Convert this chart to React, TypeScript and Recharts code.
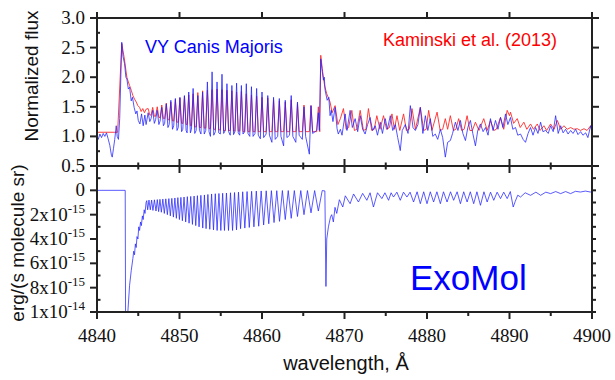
import React from "react";
import { LineChart, Line, XAxis, YAxis } from "recharts";

// ExoMol line grid: line centres and the gaps between them, Å
const bandLines = [
  4846.14, 4846.46, 4846.78, 4847.15, 4847.47, 4847.8, 4848.16, 4848.53, 4848.89, 4849.26,
  4849.62, 4849.99, 4850.35, 4850.75, 4851.16, 4851.57, 4851.97, 4852.37, 4852.82, 4853.22,
  4853.67, 4854.12, 4854.56, 4855.01, 4855.45, 4855.94, 4856.43, 4856.91, 4857.4, 4857.92,
  4858.46, 4859.02, 4859.6, 4860.2, 4860.82, 4861.46, 4862.12, 4862.82, 4863.54, 4864.3,
  4865.09, 4865.94, 4866.83,
];
const bandGaps = [
  4846.3, 4846.62, 4846.96, 4847.31, 4847.63, 4847.98, 4848.34, 4848.71, 4849.07, 4849.44,
  4849.8, 4850.17, 4850.55, 4850.95, 4851.36, 4851.77, 4852.17, 4852.59, 4853.02, 4853.44,
  4853.89, 4854.34, 4854.78, 4855.23, 4855.69, 4856.18, 4856.67, 4857.15, 4857.66, 4858.19,
  4858.74, 4859.31, 4859.9, 4860.51, 4861.14, 4861.79, 4862.47, 4863.18, 4863.92, 4864.7,
  4865.51, 4866.38,
];

// observed band: emission peaks and the two edges of each gap between them, Å
const fluxPeaks = [
  4846.2, 4846.75, 4847.3, 4847.85, 4848.4, 4848.95, 4849.5, 4850.05, 4850.6, 4851.12,
  4851.65, 4852.22, 4852.8, 4853.38, 4853.95, 4854.55, 4855.15, 4855.75, 4856.35, 4856.92,
  4857.5, 4858.1, 4858.72, 4859.35, 4860.0, 4860.7, 4861.4, 4862.1, 4862.82, 4863.54,
  4864.3, 4865.09, 4865.94, 4866.83,
];
const fluxGapLeft = [
  4846.4, 4846.95, 4847.5, 4848.05, 4848.6, 4849.15, 4849.7, 4850.25, 4850.8, 4851.32,
  4851.85, 4852.42, 4853.0, 4853.58, 4854.15, 4854.75, 4855.35, 4855.95, 4856.55, 4857.12,
  4857.7, 4858.3, 4858.92, 4859.55, 4860.2, 4860.9, 4861.6, 4862.3, 4863.02, 4863.74,
  4864.5, 4865.29, 4866.14,
];
const fluxGapRight = [
  4846.55, 4847.1, 4847.65, 4848.2, 4848.75, 4849.3, 4849.85, 4850.4, 4850.92, 4851.45,
  4852.02, 4852.6, 4853.18, 4853.75, 4854.35, 4854.95, 4855.55, 4856.15, 4856.72, 4857.3,
  4857.9, 4858.52, 4859.15, 4859.8, 4860.5, 4861.2, 4861.9, 4862.62, 4863.34, 4864.1,
  4864.89, 4865.74, 4866.63,
];

// Kaminski et al. (2013), normalized flux
const kamPreWave = [4840, 4842.5, 4843.0, 4843.15, 4843.34, 4843.5, 4843.62, 4843.8, 4843.95, 4844.15, 4844.35, 4844.55, 4844.76, 4844.95, 4845.16, 4845.35, 4845.55, 4845.75, 4845.95];
const kamPreFlux = [1.07, 1.07, 2.57, 2.45, 2.29, 2.12, 2.0, 1.92, 1.86, 1.78, 1.69, 1.63, 1.58, 1.52, 1.49, 1.42, 1.47, 1.4, 1.46];
const kamPeak = [
  1.47, 1.49, 1.5, 1.53, 1.56, 1.58, 1.62, 1.65, 1.68, 1.7, 1.72, 1.74, 1.77, 1.78, 1.79,
  1.8, 1.79, 1.78, 1.77, 1.75, 1.76, 1.72, 1.7, 1.68, 1.66, 1.65, 1.62, 1.6, 1.58, 1.62,
  1.55, 1.53, 1.52, 1.5,
];
const kamDip = [
  1.36, 1.34, 1.32, 1.3, 1.28, 1.26, 1.24, 1.22, 1.2, 1.18, 1.16, 1.15, 1.14, 1.13, 1.12,
  1.11, 1.1, 1.1, 1.09, 1.09, 1.08, 1.08, 1.08, 1.08, 1.08, 1.08, 1.08, 1.08, 1.08, 1.08,
  1.08, 1.08, 1.08,
];
const kamPostWave = [
  4867.0, 4867.12, 4867.3, 4867.44, 4867.6, 4867.85, 4868.05, 4868.25, 4868.5, 4868.86,
  4869.2, 4869.5, 4869.87, 4870.2, 4870.5, 4870.89, 4871.2, 4871.5, 4871.9, 4872.3,
  4872.6, 4872.9, 4873.3, 4873.6, 4873.92, 4874.3, 4874.73, 4875.1, 4875.45, 4875.75,
  4876.05, 4876.36, 4876.7, 4877.16, 4877.5, 4877.85, 4878.18, 4878.6, 4879.19, 4879.6,
  4879.9, 4880.2, 4880.6, 4881.22, 4881.6, 4881.9, 4882.22, 4882.5, 4882.83, 4883.2,
  4883.5, 4883.84, 4884.2, 4884.5, 4884.86, 4885.2, 4885.5, 4885.87, 4886.3, 4886.88,
  4887.3, 4887.69, 4888.1, 4888.4, 4888.91, 4889.3, 4889.72, 4890.0, 4890.12, 4890.5,
  4890.94, 4891.3, 4891.74, 4892.1, 4892.55, 4892.9, 4893.37, 4893.7, 4894.17, 4894.5,
  4894.98, 4895.4, 4895.8, 4896.2, 4896.6, 4897.0, 4897.41, 4897.8, 4898.22, 4898.6,
  4899.03, 4899.4, 4899.84, 4900,
];
const kamPostFlux = [
  1.08, 2.37, 2.15, 2.0, 1.85, 1.72, 1.65, 1.58, 1.4, 1.52,
  1.2, 1.3, 1.47, 1.12, 1.15, 1.44, 1.1, 1.12, 1.44, 1.1,
  1.12, 1.47, 1.1, 1.12, 1.35, 1.12, 1.35, 1.12, 1.15, 1.38,
  1.12, 1.35, 1.1, 1.38, 1.1, 1.12, 1.47, 1.12, 1.49, 1.1,
  1.12, 1.44, 1.1, 1.41, 1.1, 1.12, 1.3, 1.12, 1.35, 1.1,
  1.12, 1.3, 1.1, 1.12, 1.35, 1.1, 1.1, 1.24, 1.1, 1.3,
  1.1, 1.27, 1.1, 1.12, 1.32, 1.12, 1.44, 1.35, 1.41, 1.22,
  1.3, 1.15, 1.24, 1.12, 1.21, 1.12, 1.21, 1.1, 1.18, 1.1,
  1.21, 1.12, 1.27, 1.12, 1.18, 1.12, 1.15, 1.12, 1.13, 1.1,
  1.13, 1.1, 1.18, 1.12,
];

// VY Canis Majoris, normalized flux
const vyPreWave = [
  4840, 4840.15, 4840.35, 4840.55, 4840.75, 4840.95, 4841.15, 4841.35, 4841.55, 4841.75,
  4841.85, 4842.0, 4842.15, 4842.33, 4842.45, 4842.6, 4842.75, 4843.0, 4843.15, 4843.34,
  4843.5, 4843.62, 4843.8, 4843.95, 4844.15, 4844.3, 4844.5, 4844.7, 4844.85, 4845.0,
  4845.2, 4845.4, 4845.6, 4845.8, 4845.95,
];
const vyPreFlux = [
  1.0, 0.95, 1.04, 0.98, 1.05, 1.0, 1.06, 0.96, 0.85, 0.68,
  0.65, 0.8, 0.95, 1.18, 1.0, 0.95, 1.3, 2.59, 2.35, 2.23,
  2.0, 1.97, 1.8, 1.83, 1.6, 1.66, 1.49, 1.38, 1.43, 1.27,
  1.21, 1.38, 1.18, 1.36, 1.2,
];
const vyPeak = [
  1.4, 1.44, 1.44, 1.49, 1.55, 1.61, 1.64, 1.66, 1.69, 1.75, 1.81, 1.69, 1.75, 1.92, 2.09,
  1.92, 2.05, 1.89, 1.86, 1.9, 1.86, 1.89, 1.84, 1.81, 1.75, 1.69, 1.66, 1.64, 1.61, 1.69,
  1.58, 1.5, 1.52, 1.4,
];
const vyDipLeft = [
  1.25, 1.22, 1.2, 1.18, 1.15, 1.12, 1.1, 1.08, 1.1, 1.06, 1.05, 1.1, 1.04, 1.08, 1.02,
  1.06, 1.05, 1.08, 1.03, 1.06, 1.04, 1.05, 1.0, 1.02, 0.98, 1.02, 0.95, 1.0, 0.98, 1.0,
  1.02, 1.0, 1.05,
];
const vyDipRight = [
  1.3, 1.28, 1.26, 1.22, 1.2, 1.18, 1.15, 1.12, 1.06, 1.12, 1.1, 1.04, 1.1, 1.0, 1.08,
  1.04, 1.1, 1.02, 1.08, 1.02, 1.08, 1.0, 1.05, 0.96, 1.04, 0.9, 1.0, 0.84, 1.02, 0.9,
  0.95, 0.7, 1.1,
];
const vyPostWave = [
  4866.95, 4867.12, 4867.3, 4867.44, 4867.55, 4867.65, 4867.9, 4868.1, 4868.25, 4868.4,
  4868.6, 4868.86, 4869.1, 4869.25, 4869.5, 4869.7, 4870.08, 4870.3, 4870.68, 4870.95,
  4871.29, 4871.6, 4871.9, 4872.2, 4872.5, 4872.8, 4873.1, 4873.4, 4873.72, 4874.0,
  4874.33, 4874.6, 4874.94, 4875.2, 4875.55, 4875.85, 4876.16, 4876.45, 4876.76, 4877.0,
  4877.37, 4877.7, 4877.98, 4878.3, 4878.59, 4878.9, 4879.19, 4879.5, 4879.8, 4880.1,
  4880.4, 4880.7, 4881.0, 4881.3, 4881.62, 4881.9, 4882.22, 4882.5, 4882.83, 4883.1,
  4883.44, 4883.75, 4884.05, 4884.35, 4884.66, 4884.95, 4885.26, 4885.55, 4885.87, 4886.15,
  4886.48, 4886.8, 4887.09, 4887.4, 4887.69, 4888.0, 4888.3, 4888.6, 4888.91, 4889.2,
  4889.52, 4889.8, 4890.12, 4890.4, 4890.73, 4891.0, 4891.34, 4891.65, 4891.94, 4892.25,
  4892.55, 4892.85, 4893.16, 4893.45, 4893.77, 4894.05, 4894.37, 4894.7, 4894.98, 4895.3,
  4895.59, 4895.9, 4896.2, 4896.5, 4896.8, 4897.1, 4897.41, 4897.7, 4898.02, 4898.3,
  4898.62, 4898.9, 4899.23, 4899.5, 4899.84, 4900,
];
const vyPostFlux = [
  1.1, 2.31, 2.1, 1.95, 2.0, 1.78, 1.61, 1.66, 1.35, 1.44,
  1.25, 1.49, 1.13, 1.04, 1.12, 1.02, 1.38, 1.1, 1.44, 1.15,
  1.3, 1.08, 1.35, 1.12, 1.04, 1.2, 1.32, 1.1, 1.18, 1.02,
  1.24, 1.05, 1.3, 1.12, 1.35, 1.1, 1.2, 0.98, 0.76, 1.1,
  1.2, 1.05, 1.52, 1.15, 1.1, 1.2, 1.49, 1.05, 1.35, 1.1,
  1.3, 1.0, 1.04, 0.95, 1.12, 0.98, 0.65, 0.9, 0.93, 1.05,
  1.24, 1.1, 1.27, 1.05, 0.93, 1.15, 1.27, 1.05, 0.84, 1.1,
  1.21, 1.08, 1.15, 1.02, 1.3, 1.1, 1.27, 1.12, 1.32, 1.15,
  1.38, 1.2, 1.32, 1.12, 1.15, 1.02, 1.04, 0.95, 0.9, 1.05,
  1.15, 1.02, 1.15, 1.05, 1.24, 1.08, 1.1, 1.05, 1.18, 1.08,
  1.35, 1.05, 1.18, 1.06, 1.12, 1.04, 1.1, 1.05, 1.12, 1.03,
  1.08, 1.02, 1.06, 0.98, 1.18, 1.08,
];

// ExoMol cross-section, units of 1e-15 erg/(s molecule sr), drawn downwards
const exoPreWave = [
  4840, 4843.42, 4843.47, 4843.62, 4843.74, 4843.95, 4844.15, 4844.35, 4844.45, 4844.55,
  4844.65, 4844.75, 4844.85, 4844.96, 4845.06, 4845.16, 4845.28, 4845.38, 4845.5, 4845.6,
  4845.72, 4845.82, 4845.95, 4846.03,
];
const exoPreValue = [
  0, 0, 12, 12, 10, 7.8, 6.6, 5.6, 5.0, 5.3,
  4.4, 4.7, 3.8, 4.0, 3.0, 3.3, 2.6, 2.9, 2.1, 2.4,
  1.6, 1.9, 1.0, 0.85,
];
const exoDepth = [
  1.6, 1.6, 1.65, 1.7, 1.75, 1.8, 1.9, 2.0, 2.1, 2.2, 2.3, 2.4, 2.5, 2.6, 2.7,
  2.8, 2.9, 3.0, 3.1, 3.15, 3.2, 3.25, 3.3, 3.3, 3.3, 3.3, 3.3, 3.25, 3.15, 3.1,
  3.05, 3.0, 2.95, 2.85, 2.75, 2.65, 2.55, 2.4, 2.3, 2.15, 2.0, 1.85, 1.7,
];
const exoTop = [
  0.8, 0.8, 0.78, 0.76, 0.74, 0.72, 0.7, 0.68, 0.66, 0.63, 0.6, 0.58, 0.55, 0.52, 0.5,
  0.47, 0.44, 0.41, 0.38, 0.34, 0.3, 0.28, 0.26, 0.24, 0.22, 0.2, 0.18, 0.15, 0.12, 0.1,
  0.08, 0.06, 0.05, 0.04, 0.03, 0.03, 0.02, 0.02, 0.02, 0.02, 0.02, 0.02,
];
const exoPostWave = [
  4867.3, 4867.62, 4867.75, 4867.85, 4868.05, 4868.3, 4868.45, 4868.65, 4868.85, 4869.06,
  4869.38, 4869.79, 4870.1, 4870.68, 4871.1, 4871.69, 4872.2, 4872.71, 4873.1, 4873.51,
  4874.0, 4874.53, 4874.9, 4875.34, 4875.65, 4875.94, 4876.35, 4876.76, 4877.15, 4877.57,
  4877.95, 4878.37, 4878.8, 4879.19, 4879.6, 4880.0, 4880.4, 4880.8, 4881.2, 4881.62,
  4882.0, 4882.43, 4882.85, 4883.23, 4883.65, 4884.05, 4884.45, 4884.86, 4885.25, 4885.66,
  4886.05, 4886.48, 4886.9, 4887.29, 4887.7, 4888.09, 4888.5, 4888.91, 4889.3, 4889.72,
  4890.1, 4890.45, 4890.7, 4891.0, 4891.34, 4891.9, 4892.55, 4893.2, 4893.77, 4894.4,
  4894.98, 4895.6, 4896.2, 4896.8, 4897.4, 4898.0, 4898.6, 4899.2, 4899.8, 4900,
];
const exoPostValue = [
  0.02, 0.05, 7.9, 4.0, 3.0, 2.2, 2.0, 2.6, 1.4, 1.9,
  0.77, 1.37, 0.45, 1.1, 0.3, 0.96, 0.25, 0.82, 0.2, 1.37,
  0.2, 0.68, 0.2, 0.82, 0.2, 0.55, 0.15, 0.82, 0.15, 0.55,
  0.15, 0.96, 0.12, 1.1, 0.12, 1.1, 0.12, 0.96, 0.12, 1.1,
  0.12, 0.96, 0.12, 0.82, 0.12, 1.1, 0.12, 0.96, 0.12, 1.1,
  0.12, 1.23, 0.12, 0.96, 0.15, 0.82, 0.15, 0.68, 0.15, 0.68,
  0.1, 1.37, 0.9, 0.4, 0.55, 0.2, 0.41, 0.15, 0.41, 0.15,
  0.27, 0.1, 0.27, 0.1, 0.27, 0.08, 0.14, 0.06, 0.14, 0.08,
];

// axis ticks
const waveMajor = [4840, 4850, 4860, 4870, 4880, 4890, 4900];
const waveTicks = [4840, 4845, 4850, 4855, 4860, 4865, 4870, 4875, 4880, 4885, 4890, 4895, 4900];
const fluxTicks = [0.5, 0.75, 1.0, 1.25, 1.5, 1.75, 2.0, 2.25, 2.5, 2.75, 3.0];
const fluxMajor = [0.5, 1.0, 1.5, 2.0, 2.5, 3.0];
const sigmaTicks = [-2, -1, 0, 1, 2, 3, 4, 5, 6, 7, 8, 9, 10];

const toRows = (waves: number[], values: number[]) => waves.map((w, i) => ({ w, v: values[i] }));
const exoBandRows = () =>
  bandLines.flatMap((w, i) =>
    i < bandGaps.length ? [{ w, v: exoDepth[i] }, { w: bandGaps[i], v: exoTop[i] }] : [{ w, v: exoDepth[i] }]
  );
const fluxBandRows = (peaks: number[], dipLeft: number[], dipRight: number[]) =>
  fluxPeaks.flatMap((w, i) =>
    i < fluxGapLeft.length
      ? [{ w, v: peaks[i] }, { w: fluxGapLeft[i], v: dipLeft[i] }, { w: fluxGapRight[i], v: dipRight[i] }]
      : [{ w, v: peaks[i] }]
  );

const kamRows = [...toRows(kamPreWave, kamPreFlux), ...fluxBandRows(kamPeak, kamDip, kamDip), ...toRows(kamPostWave, kamPostFlux)];
const vyRows = [...toRows(vyPreWave, vyPreFlux), ...fluxBandRows(vyPeak, vyDipLeft, vyDipRight), ...toRows(vyPostWave, vyPostFlux)];
const exoRows = [...toRows(exoPreWave, exoPreValue), ...exoBandRows(), ...toRows(exoPostWave, exoPostValue)];

const SERIF = '"Liberation Serif", "Times New Roman", Times, serif';
const SANS = '"Liberation Sans", Arial, sans-serif';
const INK = "#222";
const axisStyle = { stroke: INK, strokeWidth: 2 };
const serifText: React.CSSProperties = { fontFamily: SERIF, fontSize: 19 };
const sansText = (size: number): React.CSSProperties => ({ fontFamily: SANS, fontSize: size });

const TopEdgeTick = ({ x, y }: any) => <line x1={x} x2={x} y1={y} y2={y - 6} stroke={INK} strokeWidth={2} />;

const MidEdgeTick = ({ x, y, payload }: any) => {
  const len = payload.value % 10 === 0 ? 7 : 3.5;
  return <line x1={x} x2={x} y1={y - len} y2={y + len} stroke={INK} strokeWidth={2} />;
};

const BottomEdgeTick = ({ x, y, payload }: any) => {
  const major = payload.value % 10 === 0;
  return (
    <g>
      <line x1={x} x2={x} y1={y} y2={y + (major ? 7 : 4)} stroke={INK} strokeWidth={2} />
      {major && (
        <text x={x} y={y + 30} textAnchor="middle" style={serifText} fill="#111">
          {payload.value}
        </text>
      )}
    </g>
  );
};

const FluxLeftTick = ({ x, y, payload }: any) => {
  const v = payload.value;
  const major = Math.abs(v * 2 - Math.round(v * 2)) < 1e-6;
  if (!major) return <line x1={x} x2={x + 3} y1={y} y2={y} stroke={INK} strokeWidth={2} />;
  return (
    <g>
      <line x1={x - 7} x2={x} y1={y} y2={y} stroke={INK} strokeWidth={2} />
      <text x={x - 12} y={y + 6} textAnchor="end" style={serifText} fill="#111">
        {v.toFixed(1)}
      </text>
    </g>
  );
};

const FluxRightTick = ({ x, y, payload }: any) =>
  fluxMajor.includes(payload.value) ? <line x1={x} x2={x + 7} y1={y} y2={y} stroke={INK} strokeWidth={2} /> : <g />;

const SigmaLeftTick = ({ x, y, payload }: any) => {
  const v = payload.value;
  if (v === -2) return <g />;
  if (Math.abs(v % 2) === 1) return <line x1={x} x2={x + 3.5} y1={y} y2={y} stroke={INK} strokeWidth={2} />;
  const mant = v === 10 ? "1x10" : `${v}x10`;
  const exp = v === 10 ? "-14" : "-15";
  return (
    <g>
      <line x1={x - 7} x2={x} y1={y} y2={y} stroke={INK} strokeWidth={2} />
      <text x={x - 12} y={y + 6} textAnchor="end" style={serifText} fill="#111">
        {v === 0 ? (
          "0"
        ) : (
          <>
            <tspan>{mant}</tspan>
            <tspan dy={-8} style={{ fontSize: 13 }}>
              {exp}
            </tspan>
          </>
        )}
      </text>
    </g>
  );
};

const SigmaRightTick = ({ x, y }: any) => <line x1={x} x2={x + 4} y1={y} y2={y} stroke={INK} strokeWidth={2} />;

const layer: React.CSSProperties = { position: "absolute", left: 0, top: 0 };

export default function App() {
  return (
    <div style={{ position: "absolute", left: 0, top: 0, width: 615, height: 380, background: "#fff" }}>
      <div style={layer}>
        <LineChart width={615} height={380} margin={{ top: 0, right: 0, bottom: 0, left: 0 }}>
          <XAxis xAxisId="top" orientation="top" type="number" dataKey="w" domain={[4840, 4900]} allowDataOverflow
            ticks={waveMajor} interval={0} height={18} tickSize={0} tickMargin={0} tickLine={false} tick={TopEdgeTick} axisLine={axisStyle} />
          <XAxis xAxisId="mid" orientation="bottom" type="number" dataKey="w" domain={[4840, 4900]} allowDataOverflow
            ticks={waveTicks} interval={0} height={214} tickSize={0} tickMargin={0} tickLine={false} tick={MidEdgeTick} axisLine={axisStyle} />
          <YAxis yAxisId="flux" type="number" domain={[0.5, 3]} allowDataOverflow ticks={fluxTicks} interval={0}
            width={97} tickSize={0} tickMargin={0} tickLine={false} tick={FluxLeftTick} axisLine={axisStyle} />
          <YAxis yAxisId="fluxR" orientation="right" type="number" domain={[0.5, 3]} allowDataOverflow ticks={fluxTicks} interval={0}
            width={23} tickSize={0} tickMargin={0} tickLine={false} tick={FluxRightTick} axisLine={axisStyle} />
          <Line xAxisId="mid" yAxisId="flux" data={kamRows} dataKey="v" type="linear" stroke="#ff2a2a"
            strokeWidth={0.9} dot={false} isAnimationActive={false} />
          <Line xAxisId="mid" yAxisId="flux" data={vyRows} dataKey="v" type="linear" stroke="#1f1fff"
            strokeWidth={0.9} strokeOpacity={0.85} dot={false} isAnimationActive={false} />
        </LineChart>
      </div>
      <div style={layer}>
        <LineChart width={615} height={380} margin={{ top: 0, right: 0, bottom: 0, left: 0 }}>
          <XAxis xAxisId="top" orientation="top" type="number" dataKey="w" domain={[4840, 4900]} allowDataOverflow
            ticks={waveMajor} height={166} tick={false} tickLine={false} axisLine={axisStyle} />
          <XAxis xAxisId="bottom" orientation="bottom" type="number" dataKey="w" domain={[4840, 4900]} allowDataOverflow
            ticks={waveTicks} interval={0} height={68} tickSize={0} tickMargin={0} tickLine={false} tick={BottomEdgeTick} axisLine={axisStyle} />
          <YAxis yAxisId="xs" type="number" reversed domain={[-2, 10]} allowDataOverflow ticks={sigmaTicks} interval={0}
            width={97} tickSize={0} tickMargin={0} tickLine={false} tick={SigmaLeftTick} axisLine={axisStyle} />
          <YAxis yAxisId="xsR" orientation="right" type="number" reversed domain={[-2, 10]} allowDataOverflow ticks={sigmaTicks} interval={0}
            width={23} tickSize={0} tickMargin={0} tickLine={false} tick={SigmaRightTick} axisLine={axisStyle} />
          <Line xAxisId="bottom" yAxisId="xs" data={exoRows} dataKey="v" type="linear" stroke="#2626ff"
            strokeWidth={0.9} strokeOpacity={0.85} dot={false} isAnimationActive={false} />
        </LineChart>
      </div>
      <svg width={615} height={380} style={{ ...layer, pointerEvents: "none" }}>
        <text transform="translate(31,76) rotate(-90)" textAnchor="middle" dominantBaseline="central"
          style={sansText(19)} fill="#111">Normalized flux</text>
        <text transform="translate(17,243) rotate(-90)" textAnchor="middle" dominantBaseline="central"
          style={sansText(19)} fill="#111">erg/(s molecule sr)</text>
        <text x={346} y={370} textAnchor="middle" style={sansText(20)} fill="#111">wavelength, Å</text>
        <text x={145} y={53} style={sansText(18)} fill="#0000ff">VY Canis Majoris</text>
        <text x={383} y={46} style={sansText(18)} fill="#ff0000">Kaminski et al. (2013)</text>
        <text x={410} y={290} style={sansText(35)} fill="#0000ff">ExoMol</text>
      </svg>
    </div>
  );
}
